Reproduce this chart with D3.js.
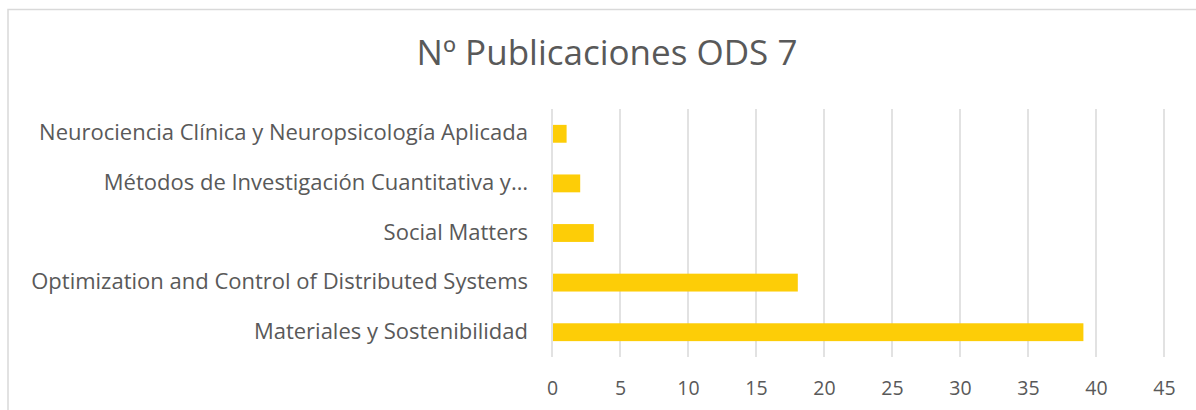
<!DOCTYPE html>
<html>
<head>
<meta charset="utf-8">
<script src="https://cdn.jsdelivr.net/npm/d3@7"></script>
<style>
  body { margin: 0; background: #fff; }
  svg text { font-family: "Open Sans", "Noto Sans", sans-serif; fill: #595959; }
</style>
</head>
<body>
<div id="chart"></div>
<script>
  // data
  var categories = [
    "Neurociencia Clínica y Neuropsicología Aplicada",
    "Métodos de Investigación Cuantitativa y…",
    "Social Matters",
    "Optimization and Control of Distributed Systems",
    "Materiales y Sostenibilidad"
  ];
  var values = [1, 2, 3, 18, 39];
  var xTicks = [0, 5, 10, 15, 20, 25, 30, 35, 40, 45];
  var chartTitle = "Nº Publicaciones ODS 7";

  var width = 1196, height = 410;
  var margin = { top: 109, right: 32, bottom: 53, left: 552 };

  var svg = d3.select("#chart").append("svg")
    .attr("width", width)
    .attr("height", height);

  // chart frame (only left and top edges are in view)
  svg.append("path")
    .attr("d", "M8,420 V9.5 H1210")
    .attr("fill", "none")
    .attr("stroke", "#d9d9d9")
    .attr("stroke-width", 1.5);

  svg.append("text")
    .attr("x", 607)
    .attr("y", 65)
    .attr("text-anchor", "middle")
    .attr("font-size", "35px")
    .text(chartTitle);

  var x = d3.scaleLinear()
    .domain([0, 45])
    .range([margin.left, width - margin.right]);

  var y = d3.scaleBand()
    .domain(categories)
    .range([margin.top, height - margin.bottom])
    .paddingInner(0.64)
    .paddingOuter(0.32);

  // gridlines
  svg.append("g")
    .selectAll("line")
    .data(xTicks)
    .enter().append("line")
    .attr("x1", d => x(d))
    .attr("x2", d => x(d))
    .attr("y1", margin.top)
    .attr("y2", height - margin.bottom)
    .attr("stroke", "#d9d9d9")
    .attr("stroke-width", 1.5);

  // bars
  svg.append("g")
    .selectAll("rect")
    .data(values)
    .enter().append("rect")
    .attr("x", x(0) + 1)
    .attr("y", (d, i) => y(categories[i]))
    .attr("width", d => x(d) - x(0))
    .attr("height", y.bandwidth())
    .attr("fill", "#fdcd07");

  // x axis labels
  var xAxis = d3.axisBottom(x)
    .tickValues(xTicks)
    .tickSize(0)
    .tickPadding(0);

  var xg = svg.append("g")
    .attr("transform", "translate(0," + (height - margin.bottom) + ")")
    .call(xAxis);
  xg.select(".domain").remove();
  xg.selectAll("text")
    .attr("font-size", "19.5px")
    .attr("dy", null)
    .attr("y", 38)
    .style("fill", "#595959")
    .style("font-family", "\"Open Sans\", sans-serif");

  // category labels
  var yAxis = d3.axisLeft(y)
    .tickSize(0)
    .tickPadding(24);

  var yg = svg.append("g")
    .attr("transform", "translate(" + margin.left + ",0)")
    .call(yAxis);
  yg.select(".domain").remove();
  yg.selectAll("text")
    .attr("font-size", "22px")
    .attr("dy", "0.3em")
    .style("fill", "#595959")
    .style("font-family", "\"Open Sans\", sans-serif");
</script>
</body>
</html>
